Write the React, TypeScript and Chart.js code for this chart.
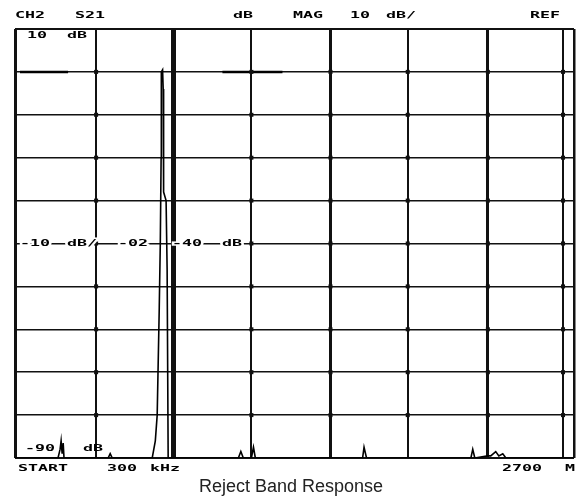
import React, { useEffect, useRef } from "react";
import { Chart, registerables } from "chart.js";

Chart.register(...registerables);

// ---- data ----
const X_START_MHZ = 0.3;
const X_STOP_MHZ = 2700;
const yTicksDb = [-90, -80, -70, -60, -50, -40, -30, -20, -10, 0, 10];
const xGridMHz = [0.3, 392, 765, 1142, 1524, 1897, 2284, 2647, 2700];

const traceMHz = [
  0.3, 208, 218, 223, 228, 233, 237, 450, 460, 470, 663, 678, 687, 697, 702, 706, 707,
  713, 716, 718, 730, 735, 740, 1079, 1091, 1103, 1142, 1152, 1161, 1679, 1686, 1698,
  2202, 2211, 2221, 2284, 2298, 2322, 2337, 2356, 2371, 2700,
];
const traceDb = [
  -90, -90, -88, -86, -89, -86.5, -90, -90, -89, -90, -90, -86, -80, -55, -40, -20, 0,
  0.5, -4, -28, -30, -46, -90, -90, -88.5, -90, -90, -87.5, -90, -90, -87.5, -90,
  -90, -88, -90, -89.5, -89.5, -88.5, -89.5, -89, -90, -90,
];

const refMarkStartMHz = [24.5, 1002];
const refMarkEndMHz = [256.7, 1292];
const refMarkDb = 0;

// ---- styles ----
const xGridWidths = [3, 2, 5, 2, 3, 2, 3, 2, 2.5];
const MONO = "'DejaVu Sans Mono', monospace";

function stretched(ctx: CanvasRenderingContext2D, text: string, x: number, y: number, halo = false) {
  ctx.save();
  ctx.translate(x, y);
  ctx.scale(1.75, 1);
  ctx.font = `bold 9.5px ${MONO}`;
  ctx.textBaseline = "middle";
  ctx.textAlign = "left";
  if (halo) {
    ctx.strokeStyle = "#fff";
    ctx.lineWidth = 3;
    ctx.strokeText(text, 0, 0);
  }
  ctx.fillStyle = "#000";
  ctx.fillText(text, 0, 0);
  ctx.restore();
}

const labelsPlugin = {
  id: "labelsPlugin",
  afterDraw(chart: any) {
    const ctx: CanvasRenderingContext2D = chart.ctx;
    const xs = chart.scales.x;
    const ys = chart.scales.y;
    // intersection dots
    ctx.save();
    ctx.fillStyle = "#111";
    for (let i = 1; i < xGridMHz.length - 1; i++) {
      const px = xs.getPixelForValue(xGridMHz[i]);
      for (let j = 1; j < yTicksDb.length - 1; j++) {
        const py = ys.getPixelForValue(yTicksDb[j]);
        ctx.fillRect(px - 2, py - 2, 4, 4);
      }
    }
    ctx.restore();

    const yTop = ys.getPixelForValue(10);
    const yRef = ys.getPixelForValue(-40);
    const yBot = ys.getPixelForValue(-90);

    // header
    const hy = yTop - 13;
    stretched(ctx, "CH2", 15, hy);
    stretched(ctx, "S21", 75, hy);
    stretched(ctx, "dB", 233, hy);
    stretched(ctx, "MAG", 293, hy);
    stretched(ctx, "10", 350, hy);
    stretched(ctx, "dB/", 386, hy);
    stretched(ctx, "REF", 530, hy);

    // inside labels
    stretched(ctx, "10", 27, yTop + 7);
    stretched(ctx, "dB", 67, yTop + 7);
    stretched(ctx, "-10", 20, yRef, true);
    stretched(ctx, "dB/", 67, yRef, true);
    stretched(ctx, "-02", 118, yRef, true);
    stretched(ctx, "-40", 172, yRef, true);
    stretched(ctx, "dB", 222, yRef, true);
    stretched(ctx, "-90", 25, yBot - 9);
    stretched(ctx, "dB", 83, yBot - 9);

    // footer
    const fy = yBot + 11;
    stretched(ctx, "START", 18, fy);
    stretched(ctx, "300", 107, fy);
    stretched(ctx, "kHz", 150, fy);
    stretched(ctx, "2700", 502, fy);
    stretched(ctx, "M", 565, fy);

    // title
    ctx.save();
    ctx.font = "18px 'Liberation Sans', Arial, sans-serif";
    ctx.fillStyle = "#222";
    ctx.textAlign = "center";
    ctx.textBaseline = "middle";
    ctx.fillText("Reject Band Response", 291, yBot + 29);
    ctx.restore();
  },
};

export default function App() {
  const canvasRef = useRef<HTMLCanvasElement | null>(null);

  useEffect(() => {
    if (!canvasRef.current) return;
    const traceData = traceMHz.map((x, i) => ({ x, y: traceDb[i] }));
    const refData: any[] = [];
    refMarkStartMHz.forEach((s, i) => {
      refData.push({ x: s, y: refMarkDb });
      refData.push({ x: refMarkEndMHz[i], y: refMarkDb });
      refData.push({ x: refMarkEndMHz[i] + 1, y: null });
    });

    const chart = new Chart(canvasRef.current, {
      type: "line",
      data: {
        datasets: [
          {
            label: "S21",
            data: traceData,
            borderColor: "#000",
            borderWidth: 1.6,
            pointRadius: 0,
            tension: 0,
            fill: false,
          },
          {
            label: "ref",
            data: refData,
            borderColor: "#000",
            borderWidth: 2.5,
            pointRadius: 0,
            spanGaps: false,
            fill: false,
          },
        ],
      },
      options: {
        animation: false,
        responsive: true,
        maintainAspectRatio: false,
        devicePixelRatio: 1,
        layout: { padding: { left: 15, top: 29, right: 8, bottom: 43 } },
        plugins: { legend: { display: false }, tooltip: { enabled: false }, title: { display: false } },
        scales: {
          x: {
            type: "linear",
            min: X_START_MHZ,
            max: X_STOP_MHZ,
            afterBuildTicks: (scale: any) => {
              scale.ticks = xGridMHz.map((v) => ({ value: v }));
            },
            ticks: { display: false },
            border: { display: false },
            grid: {
              drawTicks: false,
              color: "#111",
              lineWidth: (c: any) => xGridWidths[c.index] ?? 2,
            },
          },
          y: {
            type: "linear",
            min: -90,
            max: 10,
            afterBuildTicks: (scale: any) => {
              scale.ticks = yTicksDb.map((v) => ({ value: v }));
            },
            ticks: { display: false },
            border: { display: false },
            grid: {
              drawTicks: false,
              color: "#111",
              lineWidth: (c: any) => (c.index === 0 || c.index === yTicksDb.length - 1 ? 2 : 1.5),
            },
          },
        },
      },
      plugins: [labelsPlugin],
    });
    return () => chart.destroy();
  }, []);

  return (
    <div style={{ position: "fixed", left: 0, top: 0, width: 582, height: 501, background: "#fff" }}>
      <canvas ref={canvasRef} />
    </div>
  );
}
